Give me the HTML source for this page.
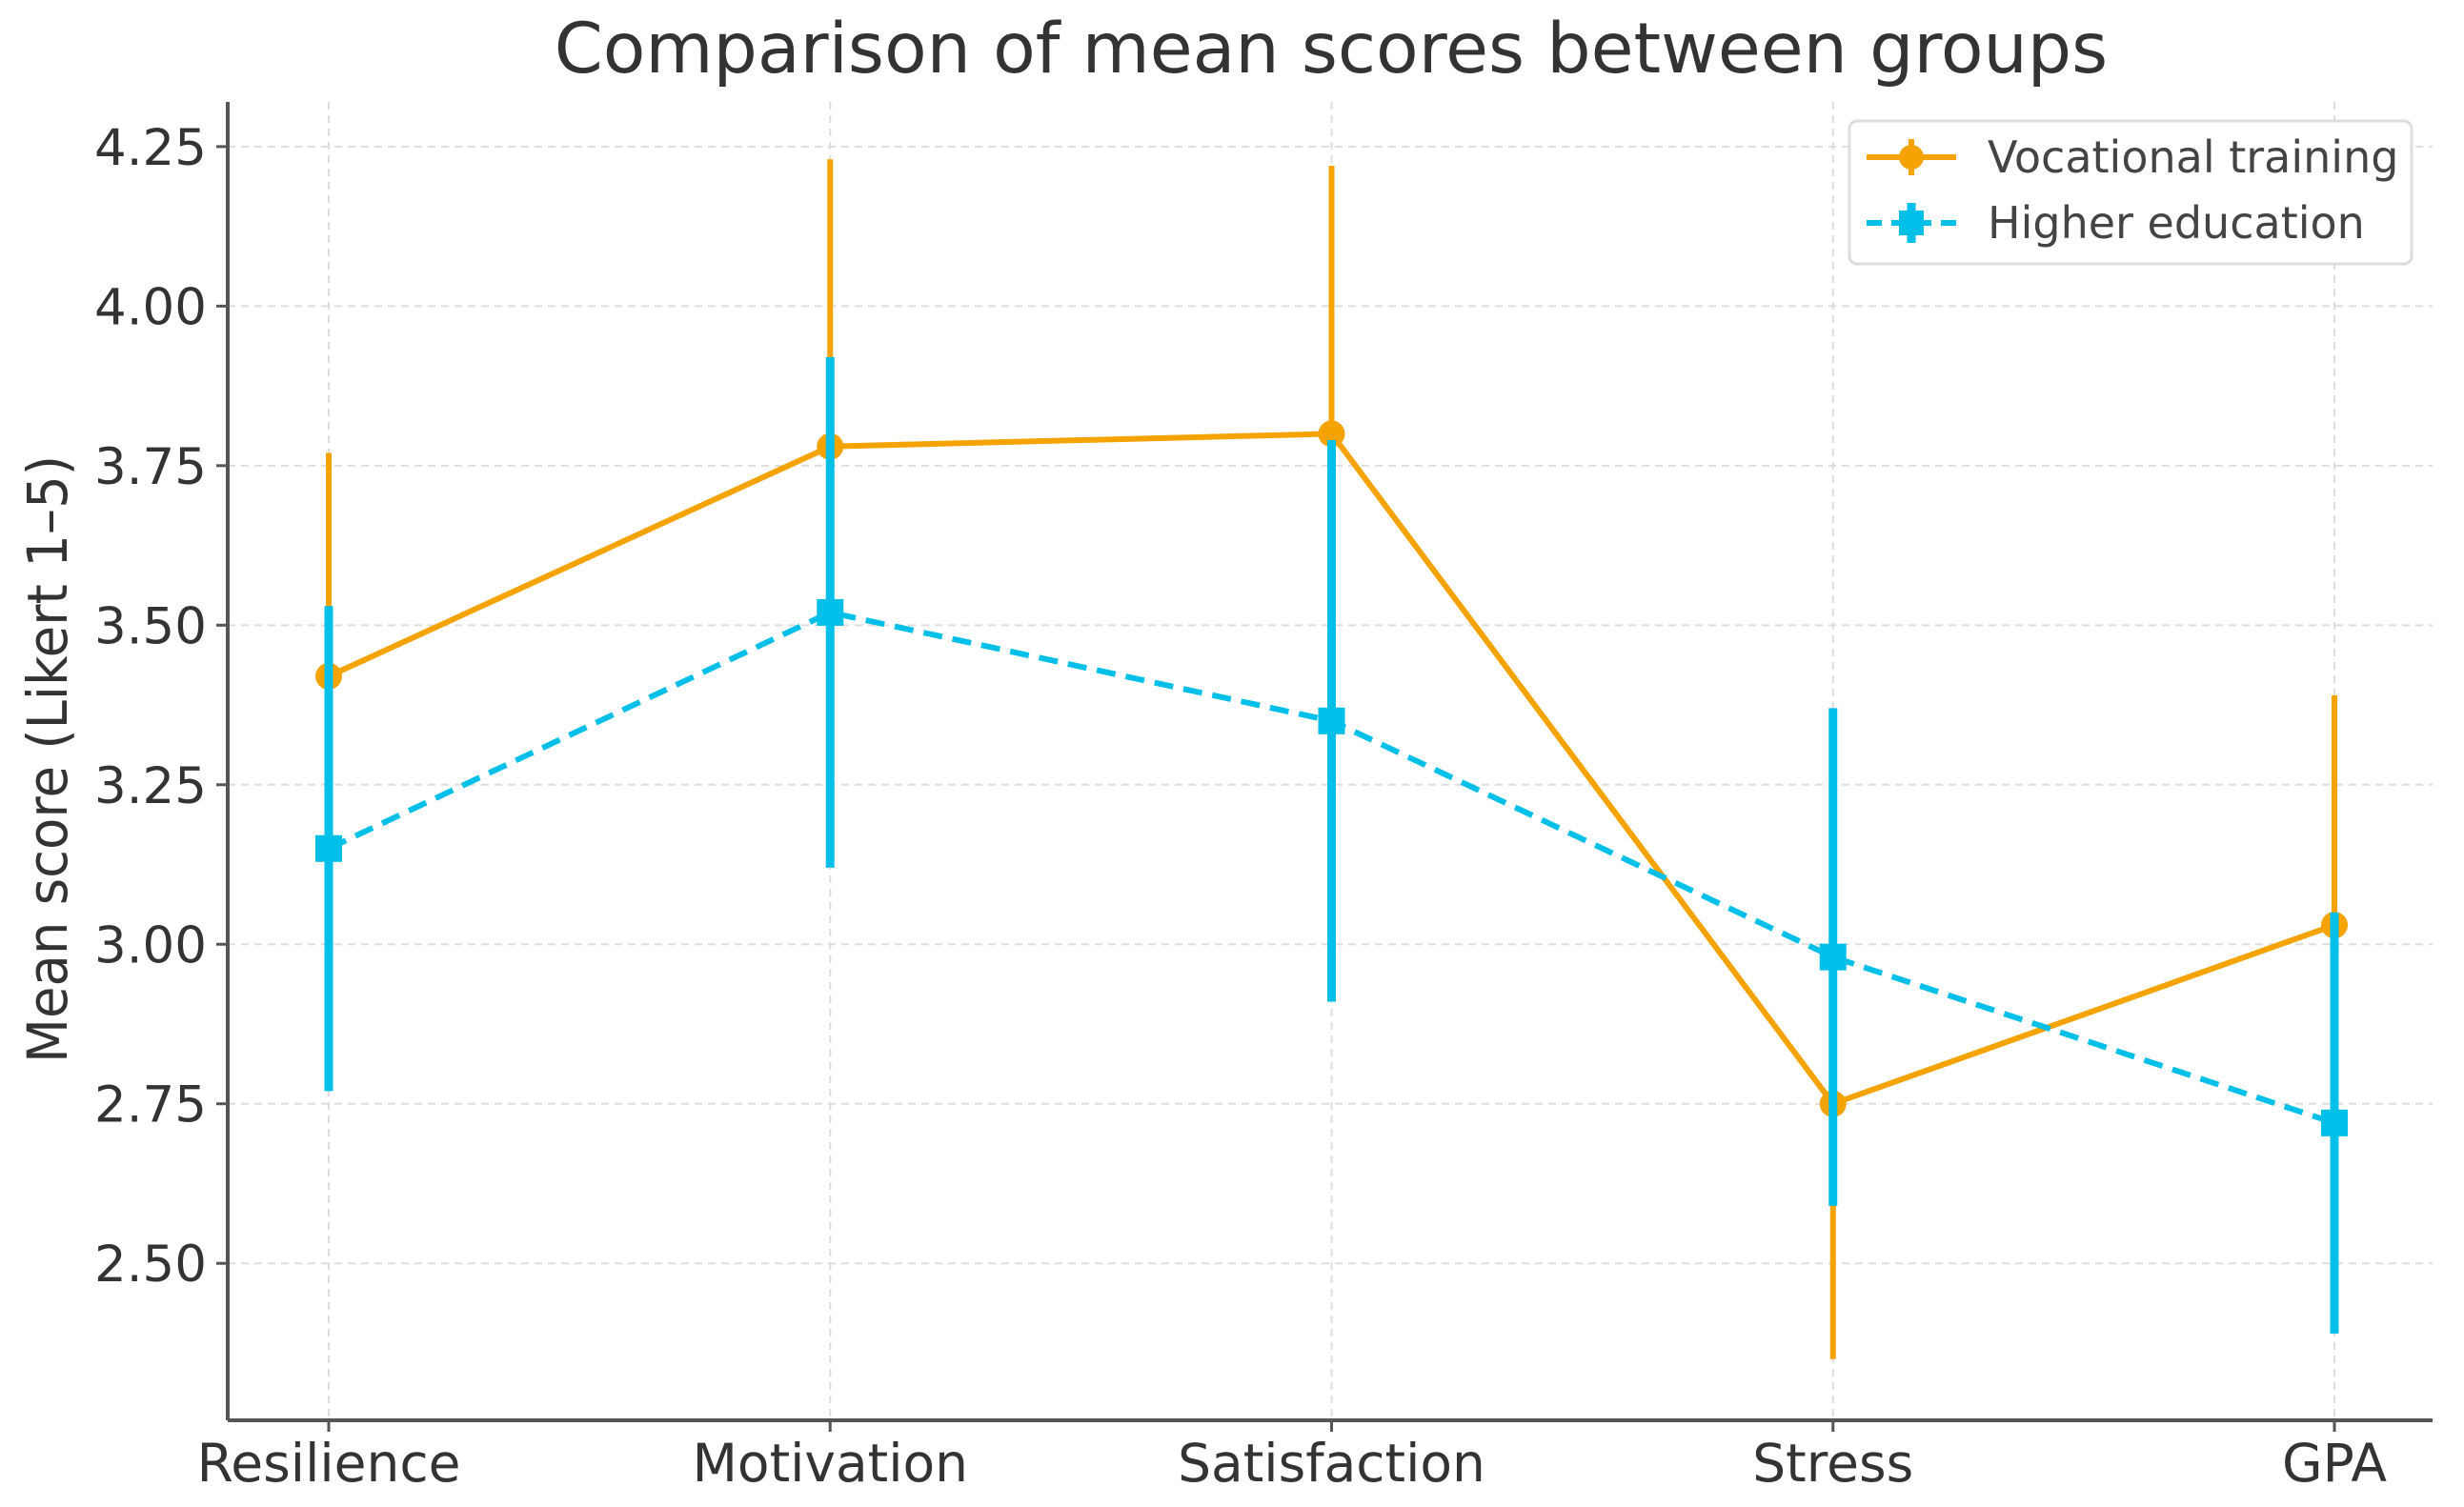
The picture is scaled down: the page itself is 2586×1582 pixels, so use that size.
<!DOCTYPE html>
<html><head><meta charset="utf-8">
<style>
html,body{margin:0;padding:0;background:#fff;}
svg{display:block;font-family:"DejaVu Sans","Liberation Sans",sans-serif;}
</style></head>
<body>
<svg id="chart" width="2586" height="1582" viewBox="0 0 2586 1582">
<rect width="2586" height="1582" fill="#fff"/>
<text x="1397" y="76" text-anchor="middle" font-size="73" fill="#333">Comparison of mean scores between groups</text>
<text transform="translate(70,797) rotate(-90)" text-anchor="middle" font-size="58" fill="#333" textLength="638" lengthAdjust="spacingAndGlyphs">Mean score (Likert 1–5)</text>
<g id="grid"></g>
<g id="axes"></g>
<g id="series"></g>
<g id="legend">
<rect x="1941" y="127" width="590" height="150" rx="8" fill="#fff" stroke="#ddd" stroke-width="3"/>
<line x1="1959" y1="165" x2="2053" y2="165" stroke="#F5A300" stroke-width="6"/>
<circle cx="2006" cy="165" r="13" fill="#F5A300"/>
<line x1="2006" y1="146" x2="2006" y2="184" stroke="#F5A300" stroke-width="6"/>
<text x="2086" y="181" font-size="46" fill="#444">Vocational training</text>
<line x1="1959" y1="234" x2="2053" y2="234" stroke="#00BFE8" stroke-width="6" stroke-dasharray="16,10"/>
<rect x="1993" y="221" width="26" height="26" fill="#00BFE8"/>
<line x1="2006" y1="213" x2="2006" y2="255" stroke="#00BFE8" stroke-width="9"/>
<text x="2086" y="250" font-size="46" fill="#444">Higher education</text>
</g>
</svg>
<script>
const categories = ["Resilience","Motivation","Satisfaction","Stress","GPA"];
const vocationalMeans = [3.42, 3.78, 3.80, 2.75, 3.03];
const vocationalErrors = [0.35, 0.45, 0.42, 0.40, 0.36];
const higherMeans = [3.15, 3.52, 3.35, 2.98, 2.72];
const higherErrors = [0.38, 0.40, 0.44, 0.39, 0.33];
const yTicks = [2.50, 2.75, 3.00, 3.25, 3.50, 3.75, 4.00, 4.25];
const yTickLabels = ["2.50","2.75","3.00","3.25","3.50","3.75","4.00","4.25"];

const NS = "http://www.w3.org/2000/svg";
const plot = {left:239, right:2553, top:107, bottom:1491};
const yMin = 2.254, yMax = 4.32;
function yScale(v){ return plot.bottom - (v - yMin) / (yMax - yMin) * (plot.bottom - plot.top); }
function xScale(i){ return 345 + i * 526.25; }
function mk(tag, attrs, parent){
  const e = document.createElementNS(NS, tag);
  for (const k in attrs) e.setAttribute(k, attrs[k]);
  parent.appendChild(e);
  return e;
}
const grid = document.getElementById('grid');
const axes = document.getElementById('axes');
const series = document.getElementById('series');

yTicks.forEach((t, i) => {
  const y = yScale(t);
  const g = mk('line', {x1:plot.left, x2:plot.right, y1:y, y2:y, stroke:'#ddd', 'stroke-width':2, 'stroke-dasharray':'8,6'}, grid);
  
  
  const tk = mk('line', {x1:plot.left-12, x2:plot.left, y1:y, y2:y, stroke:'#555', 'stroke-width':3}, axes);
  
  
  const tx = mk('text', {x:plot.left-22, y:y+19, 'text-anchor':'end', 'font-size':53, fill:'#333'}, axes);
  tx.textContent = yTickLabels[i];
  
  
});
categories.forEach((c, i) => {
  const x = xScale(i);
  const g = mk('line', {x1:x, x2:x, y1:plot.top, y2:plot.bottom, stroke:'#ddd', 'stroke-width':2, 'stroke-dasharray':'8,6'}, grid);
  
  
  const tk = mk('line', {x1:x, x2:x, y1:plot.bottom, y2:plot.bottom+12, stroke:'#555', 'stroke-width':3}, axes);
  
  
  const tx = mk('text', {x:x, y:plot.bottom+64, 'text-anchor':'middle', 'font-size':55, fill:'#333'}, axes);
  tx.textContent = c;
  
  
});
const ya = mk('line', {x1:plot.left, x2:plot.left, y1:plot.top, y2:plot.bottom, stroke:'#555', 'stroke-width':4}, axes);


const xa = mk('line', {x1:plot.left, x2:plot.right, y1:plot.bottom, y2:plot.bottom, stroke:'#555', 'stroke-width':4}, axes);



function drawSeries(means, errs, color, dashed, square, errW, name){
  const g = mk('g', {}, series);
  
  
  means.forEach((m, i) => {
    const eb = mk('line', {x1:xScale(i), x2:xScale(i), y1:yScale(m - errs[i]), y2:yScale(m + errs[i]), stroke:color, 'stroke-width':errW}, g);
    
    
  });
  const pts = means.map((m, i) => xScale(i) + ',' + yScale(m)).join(' ');
  const pl = mk('polyline', {points:pts, fill:'none', stroke:color, 'stroke-width':6, 'stroke-linejoin':'round'}, g);
  if (dashed) pl.setAttribute('stroke-dasharray', '20,11');
  
  
  means.forEach((m, i) => {
    let mkr;
    if (square) mkr = mk('rect', {x:xScale(i)-14, y:yScale(m)-14, width:28, height:28, fill:color}, g);
    else mkr = mk('circle', {cx:xScale(i), cy:yScale(m), r:14, fill:color}, g);
    
    
  });
}
drawSeries(vocationalMeans, vocationalErrors, '#F5A300', false, false, 6, 'vocational');
drawSeries(higherMeans, higherErrors, '#00BFE8', true, true, 9, 'higher-education');
</script>
</body></html>
